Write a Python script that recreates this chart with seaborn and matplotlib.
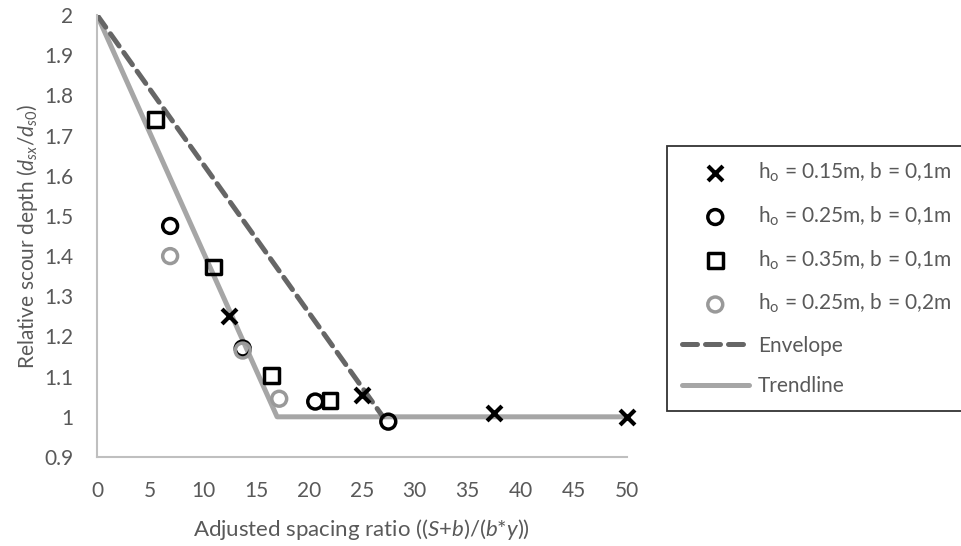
import matplotlib
matplotlib.use("Agg")
import matplotlib.pyplot as plt
import seaborn as sns
import pandas as pd

# ---- data ----
x_h015 = [12.5, 25.0, 37.5, 50.0]
y_h015 = [1.25, 1.055, 1.01, 1.0]
x_h025 = [6.9, 13.75, 20.6, 27.5]
y_h025 = [1.475, 1.17, 1.038, 0.988]
x_h035 = [5.5, 11.0, 16.5, 22.0]
y_h035 = [1.74, 1.373, 1.103, 1.04]
x_h025b = [6.9, 13.75, 17.2]
y_h025b = [1.40, 1.165, 1.045]
x_env = [0, 27.0]
y_env = [2.0, 1.0]
x_trend = [0, 17.0, 50.0]
y_trend = [2.0, 1.0, 1.0]
x_ticks = [0, 5, 10, 15, 20, 25, 30, 35, 40, 45, 50]
y_ticks = [0.9, 1.0, 1.1, 1.2, 1.3, 1.4, 1.5, 1.6, 1.7, 1.8, 1.9, 2.0]
y_ticklabels = ["0.9", "1", "1.1", "1.2", "1.3", "1.4", "1.5", "1.6", "1.7", "1.8", "1.9", "2"]
labels = [r"h$_\mathregular{o}$ = 0.15m, b = 0,1m",
          r"h$_\mathregular{o}$ = 0.25m, b = 0,1m",
          r"h$_\mathregular{o}$ = 0.35m, b = 0,1m",
          r"h$_\mathregular{o}$ = 0.25m, b = 0,2m",
          "Envelope", "Trendline"]

sns.set_theme(style="white")
plt.rcParams['font.family'] = ['Lato', 'DejaVu Sans']
plt.rcParams['mathtext.fontset'] = 'custom'
plt.rcParams['mathtext.rm'] = 'Lato'
plt.rcParams['mathtext.it'] = 'Lato:italic'

txt = "#595959"
fig = plt.figure(figsize=(9.61, 5.46), dpi=100)
ax = fig.add_axes([0.101, 0.163, 0.551, 0.8095])

sns.lineplot(x=x_trend, y=y_trend, ax=ax, color="#A6A6A6", lw=3.6, label=labels[5],
             sort=False, estimator=None)
sns.lineplot(x=x_env, y=y_env, ax=ax, color="#666666", lw=3.6, label=labels[4],
             sort=False, estimator=None, dashes=False)
ax.lines[-1].set_dashes([3.0, 1.6])
ax.lines[-1].set_dash_capstyle("round")

common = dict(ax=ax, s=115, zorder=5, clip_on=False)
sns.scatterplot(x=x_h015, y=y_h015, marker="x", color="black", linewidth=3,
                label=labels[0], **common)
sns.scatterplot(x=x_h025, y=y_h025, marker="o", facecolor="none", edgecolor="black",
                linewidth=2.5, label=labels[1], **common)
sns.scatterplot(x=x_h035, y=y_h035, marker="s", facecolor="none", edgecolor="black",
                linewidth=2.5, label=labels[2], **common)
sns.scatterplot(x=x_h025b, y=y_h025b, marker="o", facecolor="none", edgecolor="#999999",
                linewidth=2.5, label=labels[3], **common)

ax.set_xlim(0, 50)
ax.set_ylim(0.9, 2.0)
ax.set_xticks(x_ticks)
ax.set_yticks(y_ticks)
ax.set_yticklabels(y_ticklabels)
ax.tick_params(axis="both", labelsize=15, colors=txt, length=0)
ax.tick_params(axis="y", pad=17)
ax.tick_params(axis="x", pad=17)
for s in ["top", "right"]:
    ax.spines[s].set_visible(False)
for s in ["left", "bottom"]:
    ax.spines[s].set_color("#BFBFBF")
    ax.spines[s].set_linewidth(1.5)

ax.set_xlabel(r"Adjusted spacing ratio (($\mathit{S}$+$\mathit{b}$)/($\mathit{b}$*$\mathit{y}$))",
              fontsize=16, color=txt, labelpad=12)
ax.set_ylabel(r"Relative scour depth ($\mathit{d_{sx}}$/$\mathit{d_{s0}}$)",
              fontsize=15, color=txt, labelpad=3)

handles, labs = ax.get_legend_handles_labels()
order = [labs.index(l) for l in labels]
if ax.get_legend():
    ax.get_legend().remove()
leg = fig.legend([handles[i] for i in order], [labs[i] for i in order],
                 loc="upper left", bbox_to_anchor=(0.694, 0.733),
                 fontsize=15, frameon=True, fancybox=False, edgecolor="black",
                 handlelength=3.2, labelspacing=0.98, borderpad=0.72,
                 handletextpad=0.45, borderaxespad=0)
leg.get_frame().set_linewidth(1.3)
for t in leg.get_texts():
    t.set_color(txt)

fig.savefig("out.png", dpi=100)
